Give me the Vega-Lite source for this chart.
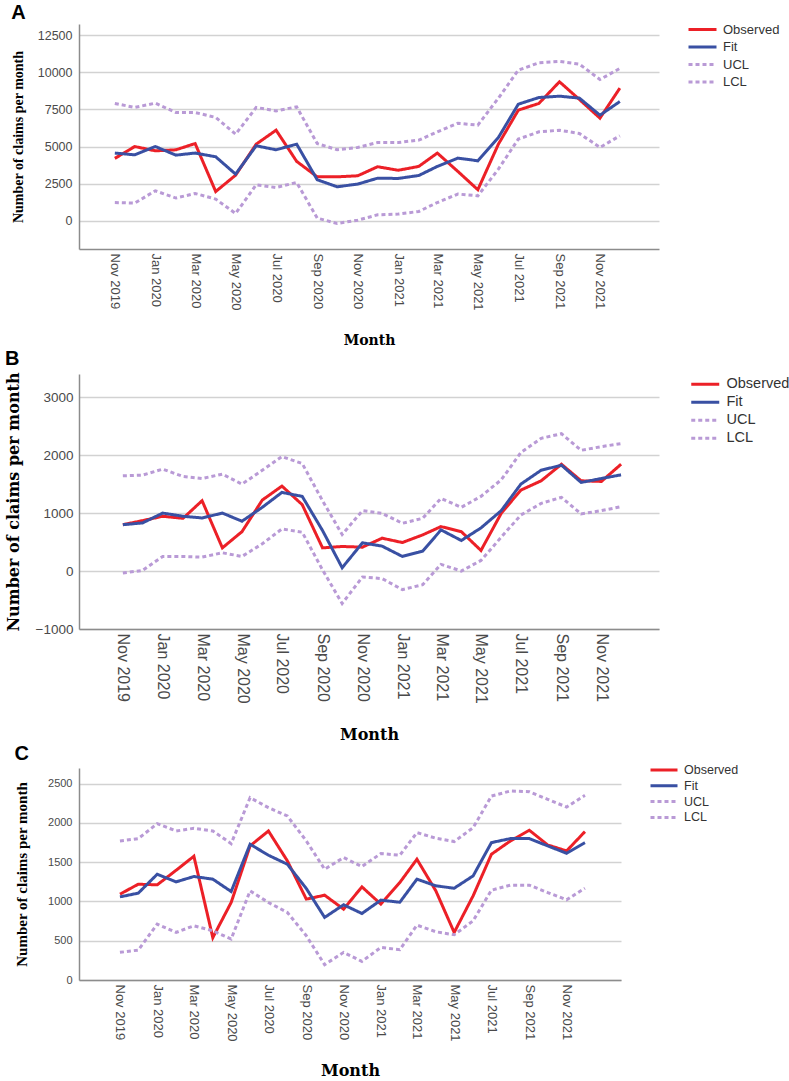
{
  "$schema": "https://vega.github.io/schema/vega-lite/v6.json",
  "padding": {"left": 5, "top": 3, "right": 0, "bottom": 0},
  "background": "white",
  "spacing": 0,
  "config": {
    "view": {"stroke": null},
    "axis": {"labelFont": "Liberation Sans", "labelColor": "#4a4a4a", "ticks": false, "domainColor": "#8c8c8c", "domainWidth": 1.5, "titleColor": "#000000", "titleFontWeight": "bold"},
    "axisY": {"gridColor": "#d2d2d2", "gridWidth": 1.5, "format": "d"},
    "legend": {"labelFont": "Liberation Sans", "labelColor": "#333333", "symbolType": "M-4.6,0H1", "symbolStrokeWidth": 3, "symbolSize": 100, "labelOffset": 5, "padding": 0, "orient": "none"},
    "title": {"font": "Liberation Sans", "fontSize": 20, "fontWeight": "bold", "color": "#000000", "anchor": "start", "frame": "bounds"}
  },
  "datasets": {
    "claims": [
      {"panel": "A", "month": "2019-11-01", "Observed": 4200, "Fit": 4560, "UCL": 7900, "LCL": 1230},
      {"panel": "A", "month": "2019-12-01", "Observed": 5000, "Fit": 4440, "UCL": 7630, "LCL": 1190},
      {"panel": "A", "month": "2020-01-01", "Observed": 4710, "Fit": 5000, "UCL": 7920, "LCL": 2020},
      {"panel": "A", "month": "2020-02-01", "Observed": 4780, "Fit": 4420, "UCL": 7290, "LCL": 1530},
      {"panel": "A", "month": "2020-03-01", "Observed": 5200, "Fit": 4560, "UCL": 7290, "LCL": 1840},
      {"panel": "A", "month": "2020-04-01", "Observed": 1970, "Fit": 4310, "UCL": 6960, "LCL": 1460},
      {"panel": "A", "month": "2020-05-01", "Observed": 3070, "Fit": 3140, "UCL": 5830, "LCL": 490},
      {"panel": "A", "month": "2020-06-01", "Observed": 5160, "Fit": 5050, "UCL": 7630, "LCL": 2420},
      {"panel": "A", "month": "2020-07-01", "Observed": 6100, "Fit": 4780, "UCL": 7400, "LCL": 2240},
      {"panel": "A", "month": "2020-08-01", "Observed": 4000, "Fit": 5160, "UCL": 7670, "LCL": 2580},
      {"panel": "A", "month": "2020-09-01", "Observed": 2960, "Fit": 2760, "UCL": 5200, "LCL": 180},
      {"panel": "A", "month": "2020-10-01", "Observed": 2960, "Fit": 2290, "UCL": 4780, "LCL": -180},
      {"panel": "A", "month": "2020-11-01", "Observed": 3030, "Fit": 2470, "UCL": 4940, "LCL": 40},
      {"panel": "A", "month": "2020-12-01", "Observed": 3640, "Fit": 2870, "UCL": 5270, "LCL": 400},
      {"panel": "A", "month": "2021-01-01", "Observed": 3400, "Fit": 2850, "UCL": 5270, "LCL": 450},
      {"panel": "A", "month": "2021-02-01", "Observed": 3660, "Fit": 3050, "UCL": 5430, "LCL": 630},
      {"panel": "A", "month": "2021-03-01", "Observed": 4560, "Fit": 3660, "UCL": 5990, "LCL": 1230},
      {"panel": "A", "month": "2021-04-01", "Observed": 3320, "Fit": 4220, "UCL": 6570, "LCL": 1800},
      {"panel": "A", "month": "2021-05-01", "Observed": 2090, "Fit": 4040, "UCL": 6440, "LCL": 1680},
      {"panel": "A", "month": "2021-06-01", "Observed": 5160, "Fit": 5610, "UCL": 8260, "LCL": 3480},
      {"panel": "A", "month": "2021-07-01", "Observed": 7450, "Fit": 7850, "UCL": 10140, "LCL": 5500},
      {"panel": "A", "month": "2021-08-01", "Observed": 7900, "Fit": 8300, "UCL": 10640, "LCL": 5990},
      {"panel": "A", "month": "2021-09-01", "Observed": 9360, "Fit": 8390, "UCL": 10730, "LCL": 6100},
      {"panel": "A", "month": "2021-10-01", "Observed": 8170, "Fit": 8260, "UCL": 10550, "LCL": 5880},
      {"panel": "A", "month": "2021-11-01", "Observed": 6910, "Fit": 7110, "UCL": 9510, "LCL": 4940},
      {"panel": "A", "month": "2021-12-01", "Observed": 8930, "Fit": 8030, "UCL": 10260, "LCL": 5720},
      {"panel": "B", "month": "2019-11-01", "Observed": 800, "Fit": 800, "UCL": 1643, "LCL": -34},
      {"panel": "B", "month": "2019-12-01", "Observed": 870, "Fit": 830, "UCL": 1655, "LCL": 11},
      {"panel": "B", "month": "2020-01-01", "Observed": 945, "Fit": 1000, "UCL": 1758, "LCL": 252},
      {"panel": "B", "month": "2020-02-01", "Observed": 910, "Fit": 945, "UCL": 1632, "LCL": 252},
      {"panel": "B", "month": "2020-03-01", "Observed": 1214, "Fit": 916, "UCL": 1597, "LCL": 240},
      {"panel": "B", "month": "2020-04-01", "Observed": 400, "Fit": 1000, "UCL": 1672, "LCL": 315},
      {"panel": "B", "month": "2020-05-01", "Observed": 680, "Fit": 860, "UCL": 1500, "LCL": 252},
      {"panel": "B", "month": "2020-06-01", "Observed": 1225, "Fit": 1100, "UCL": 1740, "LCL": 470},
      {"panel": "B", "month": "2020-07-01", "Observed": 1466, "Fit": 1357, "UCL": 1975, "LCL": 727},
      {"panel": "B", "month": "2020-08-01", "Observed": 1145, "Fit": 1288, "UCL": 1855, "LCL": 670},
      {"panel": "B", "month": "2020-09-01", "Observed": 400, "Fit": 700, "UCL": 1214, "LCL": 20},
      {"panel": "B", "month": "2020-10-01", "Observed": 424, "Fit": 57, "UCL": 630, "LCL": -560},
      {"panel": "B", "month": "2020-11-01", "Observed": 412, "Fit": 487, "UCL": 1042, "LCL": -103},
      {"panel": "B", "month": "2020-12-01", "Observed": 567, "Fit": 430, "UCL": 996, "LCL": -130},
      {"panel": "B", "month": "2021-01-01", "Observed": 492, "Fit": 252, "UCL": 824, "LCL": -320},
      {"panel": "B", "month": "2021-02-01", "Observed": 624, "Fit": 343, "UCL": 910, "LCL": -235},
      {"panel": "B", "month": "2021-03-01", "Observed": 767, "Fit": 710, "UCL": 1254, "LCL": 115},
      {"panel": "B", "month": "2021-04-01", "Observed": 680, "Fit": 527, "UCL": 1100, "LCL": 0},
      {"panel": "B", "month": "2021-05-01", "Observed": 355, "Fit": 744, "UCL": 1288, "LCL": 183},
      {"panel": "B", "month": "2021-06-01", "Observed": 996, "Fit": 1042, "UCL": 1574, "LCL": 584},
      {"panel": "B", "month": "2021-07-01", "Observed": 1397, "Fit": 1500, "UCL": 2044, "LCL": 967},
      {"panel": "B", "month": "2021-08-01", "Observed": 1557, "Fit": 1740, "UCL": 2290, "LCL": 1168},
      {"panel": "B", "month": "2021-09-01", "Observed": 1843, "Fit": 1826, "UCL": 2370, "LCL": 1271},
      {"panel": "B", "month": "2021-10-01", "Observed": 1557, "Fit": 1529, "UCL": 2084, "LCL": 985},
      {"panel": "B", "month": "2021-11-01", "Observed": 1546, "Fit": 1597, "UCL": 2147, "LCL": 1042},
      {"panel": "B", "month": "2021-12-01", "Observed": 1843, "Fit": 1660, "UCL": 2198, "LCL": 1110},
      {"panel": "C", "month": "2019-11-01", "Observed": 1093, "Fit": 1059, "UCL": 1771, "LCL": 352},
      {"panel": "C", "month": "2019-12-01", "Observed": 1220, "Fit": 1106, "UCL": 1801, "LCL": 381},
      {"panel": "C", "month": "2020-01-01", "Observed": 1212, "Fit": 1347, "UCL": 1991, "LCL": 712},
      {"panel": "C", "month": "2020-02-01", "Observed": 1398, "Fit": 1250, "UCL": 1898, "LCL": 606},
      {"panel": "C", "month": "2020-03-01", "Observed": 1576, "Fit": 1318, "UCL": 1932, "LCL": 691},
      {"panel": "C", "month": "2020-04-01", "Observed": 540, "Fit": 1284, "UCL": 1898, "LCL": 627},
      {"panel": "C", "month": "2020-05-01", "Observed": 987, "Fit": 1127, "UCL": 1737, "LCL": 521},
      {"panel": "C", "month": "2020-06-01", "Observed": 1708, "Fit": 1729, "UCL": 2322, "LCL": 1135},
      {"panel": "C", "month": "2020-07-01", "Observed": 1898, "Fit": 1589, "UCL": 2195, "LCL": 987},
      {"panel": "C", "month": "2020-08-01", "Observed": 1517, "Fit": 1474, "UCL": 2089, "LCL": 860},
      {"panel": "C", "month": "2020-09-01", "Observed": 1030, "Fit": 1165, "UCL": 1771, "LCL": 564},
      {"panel": "C", "month": "2020-10-01", "Observed": 1080, "Fit": 797, "UCL": 1411, "LCL": 195},
      {"panel": "C", "month": "2020-11-01", "Observed": 902, "Fit": 958, "UCL": 1559, "LCL": 352},
      {"panel": "C", "month": "2020-12-01", "Observed": 1186, "Fit": 847, "UCL": 1445, "LCL": 237},
      {"panel": "C", "month": "2021-01-01", "Observed": 966, "Fit": 1017, "UCL": 1610, "LCL": 415},
      {"panel": "C", "month": "2021-02-01", "Observed": 1241, "Fit": 990, "UCL": 1589, "LCL": 386},
      {"panel": "C", "month": "2021-03-01", "Observed": 1538, "Fit": 1284, "UCL": 1877, "LCL": 699},
      {"panel": "C", "month": "2021-04-01", "Observed": 1135, "Fit": 1199, "UCL": 1805, "LCL": 614},
      {"panel": "C", "month": "2021-05-01", "Observed": 606, "Fit": 1169, "UCL": 1763, "LCL": 576},
      {"panel": "C", "month": "2021-06-01", "Observed": 1072, "Fit": 1326, "UCL": 1940, "LCL": 754},
      {"panel": "C", "month": "2021-07-01", "Observed": 1602, "Fit": 1750, "UCL": 2343, "LCL": 1144},
      {"panel": "C", "month": "2021-08-01", "Observed": 1771, "Fit": 1801, "UCL": 2407, "LCL": 1208},
      {"panel": "C", "month": "2021-09-01", "Observed": 1907, "Fit": 1801, "UCL": 2398, "LCL": 1208},
      {"panel": "C", "month": "2021-10-01", "Observed": 1720, "Fit": 1708, "UCL": 2301, "LCL": 1114},
      {"panel": "C", "month": "2021-11-01", "Observed": 1644, "Fit": 1614, "UCL": 2203, "LCL": 1021},
      {"panel": "C", "month": "2021-12-01", "Observed": 1890, "Fit": 1750, "UCL": 2352, "LCL": 1169}
    ]
  },
  "data": {"name": "claims"},
  "resolve": {
    "scale": {"x": "independent", "y": "independent", "color": "independent", "strokeDash": "independent"},
    "legend": {"color": "independent", "strokeDash": "independent"},
    "axis": {"x": "independent", "y": "independent"}
  },
  "vconcat": [
    {
      "title": {"text": "A", "offset": 0},
      "width": 580,
      "height": 225,
      "transform": [
        {"filter": "datum.panel === 'A'"},
        {"fold": ["Observed", "Fit", "UCL", "LCL"], "as": ["series", "value"]}
      ],
      "mark": {"type": "line", "strokeWidth": 3},
      "encoding": {
        "x": {"field": "month", "type": "temporal",
          "scale": {"type": "utc", "nice": false, "domain": [{"year": 2019, "month": 9, "date": 8, "utc": true}, {"year": 2022, "month": 1, "date": 29, "utc": true}]},
          "axis": {"title": "Month", "titleFont": "DejaVu Serif", "titleFontSize": 14, "titlePadding": 23, "labelAngle": 90, "labelFontSize": 13, "labelPadding": 4, "grid": false,
            "labelExpr": "utcFormat(datum.value, '%b %Y')",
            "values": [{"year": 2019, "month": 11, "date": 1, "utc": true}, {"year": 2020, "month": 1, "date": 1, "utc": true}, {"year": 2020, "month": 3, "date": 1, "utc": true}, {"year": 2020, "month": 5, "date": 1, "utc": true}, {"year": 2020, "month": 7, "date": 1, "utc": true}, {"year": 2020, "month": 9, "date": 1, "utc": true}, {"year": 2020, "month": 11, "date": 1, "utc": true}, {"year": 2021, "month": 1, "date": 1, "utc": true}, {"year": 2021, "month": 3, "date": 1, "utc": true}, {"year": 2021, "month": 5, "date": 1, "utc": true}, {"year": 2021, "month": 7, "date": 1, "utc": true}, {"year": 2021, "month": 9, "date": 1, "utc": true}, {"year": 2021, "month": 11, "date": 1, "utc": true}]}},
        "y": {"field": "value", "type": "quantitative", "scale": {"domain": [-1900, 13250], "nice": false, "zero": false},
          "axis": {"title": "Number of claims per month", "titleFont": "Liberation Serif", "titleFontSize": 14, "titlePadding": 12, "labelFontSize": 12.5, "labelPadding": 7, "grid": true,
            "values": [0, 2500, 5000, 7500, 10000, 12500]}},
        "color": {"field": "series", "type": "nominal",
          "scale": {"domain": ["Observed", "Fit", "UCL", "LCL"], "range": ["#ec2027", "#3950a3", "#b99ad6", "#b99ad6"]},
          "legend": {"title": null, "labelFontSize": 13, "rowPadding": 3.5, "legendX": 626, "legendY": -1}},
        "strokeDash": {"field": "series", "type": "nominal",
          "scale": {"domain": ["Observed", "Fit", "UCL", "LCL"], "range": [[1, 0], [1, 0], [4, 3], [4, 3]]},
          "legend": {"title": null, "labelFontSize": 13, "rowPadding": 3.5, "legendX": 626, "legendY": -1}}
      }
    },
    {
      "title": {"text": "B", "offset": 3},
      "width": 580,
      "height": 255,
      "transform": [
        {"filter": "datum.panel === 'B'"},
        {"fold": ["Observed", "Fit", "UCL", "LCL"], "as": ["series", "value"]}
      ],
      "mark": {"type": "line", "strokeWidth": 3},
      "encoding": {
        "x": {"field": "month", "type": "temporal",
          "scale": {"type": "utc", "nice": false, "domain": [{"year": 2019, "month": 8, "date": 26, "utc": true}, {"year": 2022, "month": 1, "date": 28, "utc": true}]},
          "axis": {"title": "Month", "titleFont": "DejaVu Serif", "titleFontSize": 16, "titlePadding": 23, "labelAngle": 90, "labelFontSize": 16, "labelPadding": 4, "grid": false,
            "labelExpr": "utcFormat(datum.value, '%b %Y')",
            "values": [{"year": 2019, "month": 11, "date": 1, "utc": true}, {"year": 2020, "month": 1, "date": 1, "utc": true}, {"year": 2020, "month": 3, "date": 1, "utc": true}, {"year": 2020, "month": 5, "date": 1, "utc": true}, {"year": 2020, "month": 7, "date": 1, "utc": true}, {"year": 2020, "month": 9, "date": 1, "utc": true}, {"year": 2020, "month": 11, "date": 1, "utc": true}, {"year": 2021, "month": 1, "date": 1, "utc": true}, {"year": 2021, "month": 3, "date": 1, "utc": true}, {"year": 2021, "month": 5, "date": 1, "utc": true}, {"year": 2021, "month": 7, "date": 1, "utc": true}, {"year": 2021, "month": 9, "date": 1, "utc": true}, {"year": 2021, "month": 11, "date": 1, "utc": true}]}},
        "y": {"field": "value", "type": "quantitative", "scale": {"domain": [-1000, 3400], "nice": false, "zero": false},
          "axis": {"title": "Number of claims per month", "titleFont": "DejaVu Serif", "titleFontSize": 16, "titlePadding": 14, "labelFontSize": 13.5, "labelPadding": 6, "grid": true,
            "values": [-1000, 0, 1000, 2000, 3000]}},
        "color": {"field": "series", "type": "nominal",
          "scale": {"domain": ["Observed", "Fit", "UCL", "LCL"], "range": ["#ec2027", "#3950a3", "#b99ad6", "#b99ad6"]},
          "legend": {"title": null, "labelFontSize": 14.5, "rowPadding": 3, "legendX": 628, "legendY": 3}},
        "strokeDash": {"field": "series", "type": "nominal",
          "scale": {"domain": ["Observed", "Fit", "UCL", "LCL"], "range": [[1, 0], [1, 0], [4, 3], [4, 3]]},
          "legend": {"title": null, "labelFontSize": 14.5, "rowPadding": 3, "legendX": 628, "legendY": 3}}
      }
    },
    {
      "title": {"text": "C", "offset": 0},
      "width": 542,
      "height": 212,
      "transform": [
        {"filter": "datum.panel === 'C'"},
        {"fold": ["Observed", "Fit", "UCL", "LCL"], "as": ["series", "value"]}
      ],
      "mark": {"type": "line", "strokeWidth": 3},
      "encoding": {
        "x": {"field": "month", "type": "temporal",
          "scale": {"type": "utc", "nice": false, "domain": [{"year": 2019, "month": 8, "date": 26, "utc": true}, {"year": 2022, "month": 1, "date": 29, "utc": true}]},
          "axis": {"title": "Month", "titleFont": "DejaVu Serif", "titleFontSize": 16, "titlePadding": 21, "labelAngle": 90, "labelFontSize": 13, "labelPadding": 4, "grid": false,
            "labelExpr": "utcFormat(datum.value, '%b %Y')",
            "values": [{"year": 2019, "month": 11, "date": 1, "utc": true}, {"year": 2020, "month": 1, "date": 1, "utc": true}, {"year": 2020, "month": 3, "date": 1, "utc": true}, {"year": 2020, "month": 5, "date": 1, "utc": true}, {"year": 2020, "month": 7, "date": 1, "utc": true}, {"year": 2020, "month": 9, "date": 1, "utc": true}, {"year": 2020, "month": 11, "date": 1, "utc": true}, {"year": 2021, "month": 1, "date": 1, "utc": true}, {"year": 2021, "month": 3, "date": 1, "utc": true}, {"year": 2021, "month": 5, "date": 1, "utc": true}, {"year": 2021, "month": 7, "date": 1, "utc": true}, {"year": 2021, "month": 9, "date": 1, "utc": true}, {"year": 2021, "month": 11, "date": 1, "utc": true}]}},
        "y": {"field": "value", "type": "quantitative", "scale": {"domain": [0, 2700], "nice": false, "zero": false},
          "axis": {"title": "Number of claims per month", "titleFont": "Liberation Serif", "titleFontSize": 15, "titlePadding": 18, "labelFontSize": 11, "labelPadding": 7, "grid": true,
            "values": [0, 500, 1000, 1500, 2000, 2500]}},
        "color": {"field": "series", "type": "nominal",
          "scale": {"domain": ["Observed", "Fit", "UCL", "LCL"], "range": ["#ec2027", "#3950a3", "#b99ad6", "#b99ad6"]},
          "legend": {"title": null, "labelFontSize": 12.5, "symbolType": "M-4.4,0H1", "rowPadding": 2.8, "legendX": 587, "legendY": -4.5}},
        "strokeDash": {"field": "series", "type": "nominal",
          "scale": {"domain": ["Observed", "Fit", "UCL", "LCL"], "range": [[1, 0], [1, 0], [4, 3], [4, 3]]},
          "legend": {"title": null, "labelFontSize": 12.5, "symbolType": "M-4.4,0H1", "rowPadding": 2.8, "legendX": 587, "legendY": -4.5}}
      }
    }
  ]
}
